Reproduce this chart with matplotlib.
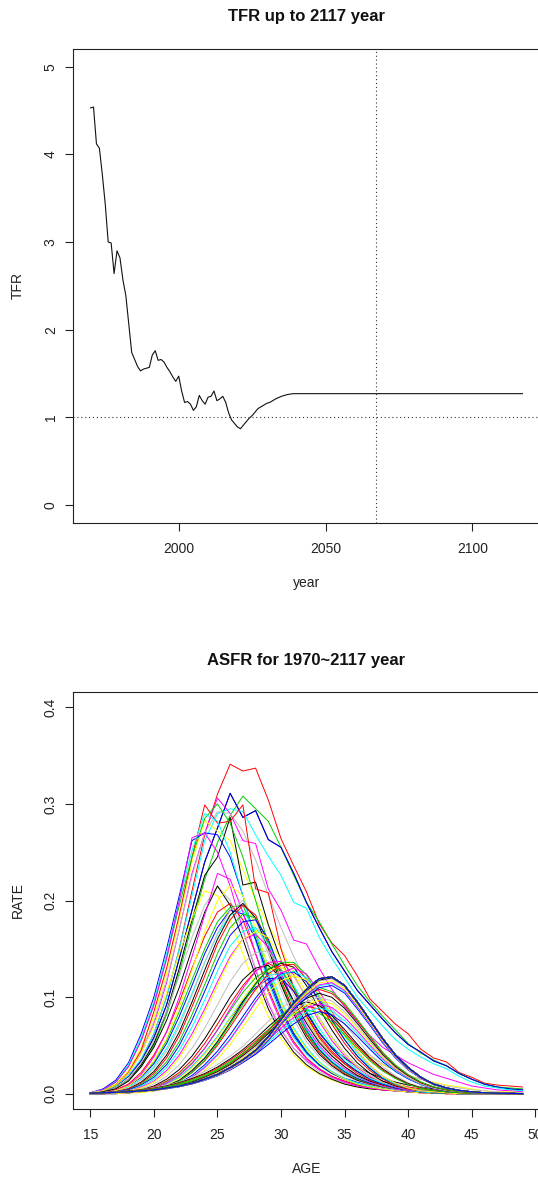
import matplotlib
matplotlib.use('Agg')
import matplotlib.pyplot as plt
import numpy as np

plt.rcParams['font.family'] = ['Liberation Sans', 'DejaVu Sans']

# ---------------- data ----------------
years = list(range(1970, 2118))

tfr_1970_2039 = [4.53, 4.54, 4.12, 4.07, 3.77, 3.43, 3.00, 2.99, 2.64, 2.90,
                 2.82, 2.57, 2.39, 2.06, 1.74, 1.66, 1.58, 1.53, 1.55, 1.56,
                 1.57, 1.71, 1.76, 1.65, 1.66, 1.63, 1.57, 1.52, 1.46, 1.41,
                 1.47, 1.30, 1.17, 1.18, 1.15, 1.08, 1.12, 1.25, 1.19, 1.15,
                 1.23, 1.24, 1.30, 1.19, 1.21, 1.24, 1.17, 1.05, 0.97, 0.93,
                 0.89, 0.87, 0.91, 0.95, 0.99, 1.02, 1.06, 1.10, 1.12, 1.14,
                 1.16, 1.17, 1.19, 1.21, 1.225, 1.24, 1.25, 1.26, 1.265, 1.27]
tfr_plateau_2040_2117 = 1.27
tfr_ref_line = 1.0
year_ref_line = 2067

ages = list(range(15, 50))

# age-specific fertility rates, per 1000 women, ages 15..49
asfr_1970_2034 = [
    [1,3,8,18,34, 58,92,140,190,240, 275,311,286,293,263, 255,228,198,172,147, 127,107,92,77,63, 51,43,34,29,21, 15,10,7,5,4],
    [1,3,8,18,35, 62,100,150,210,268, 310,341,334,337,304, 264,236,209,176,156, 143,122,98,85,72, 62,46,37,33,22, 17,11,9,8,7],
    [1,2,6,14,28, 50,82,125,175,222, 260,288,308,295,282, 255,226,198,178,155, 133,112,95,80,66, 52,42,35,29,21, 15,10,7,6,5],
    [1,3,8,18,34, 58,92,140,190,240, 275,311,286,293,263, 255,228,198,172,147, 127,107,92,77,63, 51,43,34,29,21, 15,10,7,5,4],
    [1,3,8,19,36, 62,100,150,205,262, 290,295,292,268,246, 226,198,192,162,140, 120,100,85,70,56, 46,38,31,26,18, 12,8,6,4,3],
    [1,3,9,21,42, 72,115,170,228,270, 306,290,262,259,212, 190,159,155,130,108, 90,75,60,48,40, 32,26,20,16,12, 8,6,4,3,2],
    [1,4,10,24,48, 80,125,180,240,283, 272,262,232,200,175, 150,125,105,88,72, 58,47,38,30,24, 19,15,12,9,7, 5,3,2,2,1],
    [1,3,9,22,44, 75,118,170,225,270, 292,290,272,242,206, 172,142,116,96,78, 63,50,40,31,24, 19,15,11,8,6, 4,3,2,1,1],
    [1,2,6,15,30, 52,85,130,180,226, 245,286,216,219,175, 138,110,84,63,48, 37,28,21,16,12, 9,7,5,4,3, 2,1,1,1,0],
    [1,3,9,22,45, 85,130,185,245,299, 280,282,299,212,208, 150,110,80,58,42, 31,23,17,13,10, 7,5,4,3,2, 1,1,1,0,0],
    [1,4,12,28,55, 92,140,195,245,285, 300,280,245,200,155, 115,85,62,45,33, 24,18,13,10,7, 5,4,3,2,1, 1,1,0,0,0],
    [1,5,14,32,62, 100,150,205,262,270, 268,245,205,160,118, 85,60,42,30,22, 16,12,9,6,4, 3,2,2,1,1, 0,0,0,0,0],
    [1,4,12,30,58, 95,145,200,252,290, 282,250,205,158,115, 82,58,41,29,21, 15,11,8,6,4, 3,2,2,1,1, 0,0,0,0,0],
    [1,4,12,28,55, 92,140,200,265,270, 250,215,170,128,93, 66,47,34,25,18, 13,9,7,5,3, 2,2,1,1,0, 0,0,0,0,0],
    [1,3,9,21,42, 70,105,145,182,210, 205,180,145,110,80, 57,40,28,20,14, 10,7,5,4,3, 2,1,1,1,0, 0,0,0,0,0],
    [1,2,6,15,32, 55,85,122,162,195, 215,200,168,130,95, 67,47,33,23,16, 11,8,6,4,3, 2,1,1,1,0, 0,0,0,0,0],
    [0,2,5,13,28, 48,76,110,150,188, 215,195,160,122,88, 62,43,30,21,15, 10,7,5,4,3, 2,1,1,0,0, 0,0,0,0,0],
    [0,1,4,10,22, 40,64,95,130,163, 188,197,180,145,108, 77,54,37,26,18, 13,9,6,4,3, 2,1,1,0,0, 0,0,0,0,0],
    [0,1,3,8,18, 33,55,85,118,150, 178,193,195,165,125, 90,63,44,30,21, 15,10,7,5,3, 2,2,1,1,0, 0,0,0,0,0],
    [0,1,3,8,17, 31,52,80,112,145, 172,190,186,160,122, 88,62,43,30,21, 15,10,7,5,3, 2,2,1,1,0, 0,0,0,0,0],
    [0,1,3,7,15, 28,47,73,104,136, 165,185,190,168,132, 96,68,48,33,23, 16,11,8,5,4, 3,2,1,1,0, 0,0,0,0,0],
    [0,1,3,9,20, 38,64,100,142,185, 228,222,188,145,105, 74,52,36,25,17, 12,8,6,4,3, 2,1,1,0,0, 0,0,0,0,0],
    [0,1,3,8,18, 34,57,90,128,168, 200,215,205,172,130, 94,66,46,32,22, 15,10,7,5,3, 2,1,1,0,0, 0,0,0,0,0],
    [0,1,2,6,14, 26,44,70,102,136, 166,190,200,180,145, 108,77,54,38,27, 19,13,9,6,4, 3,2,1,1,0, 0,0,0,0,0],
    [0,1,2,5,12, 23,40,64,95,128, 160,185,197,182,150, 113,82,58,41,29, 20,14,10,7,5, 3,2,1,1,0, 0,0,0,0,0],
    [0,1,2,5,11, 21,37,60,90,122, 155,180,195,185,155, 118,86,61,43,30, 21,15,10,7,5, 3,2,1,1,0, 0,0,0,0,0],
    [0,1,2,4,10, 19,33,54,82,113, 145,172,186,182,158, 123,90,64,45,32, 22,15,11,7,5, 3,2,1,1,0, 0,0,0,0,0],
    [0,1,2,4,9, 17,30,50,76,106, 137,164,178,180,160, 126,93,66,46,33, 23,16,11,8,5, 3,2,1,1,0, 0,0,0,0,0],
    [0,0,1,3,8, 15,27,45,69,97, 127,153,168,172,155, 124,93,67,48,34, 24,17,12,8,5, 3,2,1,1,0, 0,0,0,0,0],
    [0,0,1,3,7, 13,24,40,62,88, 116,142,160,165,152, 125,95,69,50,36, 26,18,12,8,5, 3,2,1,1,0, 0,0,0,0,0],
    [0,0,1,3,6, 12,22,37,58,84, 112,140,160,168,162, 138,106,78,56,40, 28,19,13,9,6, 4,2,1,1,0, 0,0,0,0,0],
    [0,0,1,2,5, 10,18,30,47,68, 92,116,135,146,148, 130,102,76,55,40, 28,19,13,9,6, 4,2,1,1,0, 0,0,0,0,0],
    [0,0,1,2,4, 8,15,25,39,57, 78,100,118,130,133, 120,96,73,53,39, 28,19,13,9,6, 4,2,1,1,0, 0,0,0,0,0],
    [0,0,1,2,4, 7,13,22,35,52, 72,93,112,127,135, 128,106,81,60,44, 31,21,14,9,6, 4,2,1,1,0, 0,0,0,0,0],
    [0,0,1,2,3, 6,12,20,32,47, 66,86,105,120,129, 128,110,86,64,47, 33,23,15,10,6, 4,2,1,1,0, 0,0,0,0,0],
    [0,0,1,1,3, 5,10,17,28,42, 59,78,96,110,119, 120,106,84,63,47, 33,23,15,10,6, 4,2,1,1,0, 0,0,0,0,0],
    [0,0,1,1,3, 5,10,17,28,42, 59,79,98,114,123, 124,112,90,68,50, 36,25,16,11,7, 4,2,1,1,0, 0,0,0,0,0],
    [0,0,1,2,3, 6,11,19,31,47, 66,88,109,127,136, 137,123,99,75,55, 39,27,18,12,7, 4,3,2,1,0, 0,0,0,0,0],
    [0,0,1,1,3, 5,9,16,27,41, 58,78,98,116,128, 131,122,100,77,57, 41,28,19,12,8, 5,3,2,1,0, 0,0,0,0,0],
    [0,0,1,1,2, 4,8,14,24,37, 53,72,91,108,121, 127,121,101,79,59, 42,29,19,12,8, 5,3,2,1,0, 0,0,0,0,0],
    [0,0,1,1,2, 4,8,14,24,37, 54,74,95,114,129, 135,131,112,88,66, 47,32,21,13,8, 5,3,2,1,0, 0,0,0,0,0],
    [0,0,1,1,2, 4,7,13,22,34, 50,69,89,108,124, 133,134,119,95,72, 52,36,24,15,9, 5,3,2,1,0, 0,0,0,0,0],
    [0,0,1,1,2, 4,7,13,22,35, 52,72,93,113,129, 136,136,123,100,77, 56,39,26,16,10, 6,3,2,1,0, 0,0,0,0,0],
    [0,0,0,1,2, 3,6,11,19,30, 44,61,80,99,115, 124,126,116,97,76, 56,39,26,16,10, 6,3,2,1,0, 0,0,0,0,0],
    [0,0,0,1,2, 3,6,10,17,28, 41,57,76,95,112, 123,127,120,102,81, 60,42,28,17,10, 6,3,2,1,0, 0,0,0,0,0],
    [0,0,0,1,2, 3,5,10,17,27, 40,56,75,95,113, 125,130,124,106,85, 63,44,29,18,11, 6,3,2,1,0, 0,0,0,0,0],
    [0,0,0,1,1, 3,5,9,15,24, 36,51,69,88,105, 117,122,118,103,83, 63,44,29,18,11, 6,3,2,1,0, 0,0,0,0,0],
    [0.8,1.3,2.1,3.1,4.4, 6.2,8.8,12,17,23, 30,39,49,62,75, 88,98,103,99,88, 72,56,40,28,18.5, 11.3,6.7,3.9,2.3,1.2, 0.7,0.4,0.2,0.1,0.05],
    [0.8,1.2,1.9,2.9,4.1, 5.7,8.1,11.4,15.7,20.9, 27.6,36.1,45.6,57,69.4, 80.8,90.3,95,91.2,80.8, 66.5,51.3,37,25.7,17.1, 10.5,6.2,3.6,2.1,1.1, 0.7,0.4,0.2,0.1,0.05],
    [0.7,1.2,1.8,2.7,3.9, 5.5,7.7,10.9,15,20, 26.4,34.6,43.7,54.6,66.4, 77.4,86.5,91,87.4,77.4, 63.7,49.1,35.5,24.6,16.4, 10,5.9,3.5,2,1.1, 0.6,0.4,0.2,0.1,0.05],
    [0.7,1.1,1.7,2.6,3.7, 5.2,7.4,10.4,14.4,19.1, 25.2,33.1,41.8,52.2,63.5, 74,82.7,87,83.5,74, 60.9,47,33.9,23.5,15.7, 9.6,5.7,3.3,1.9,1, 0.6,0.3,0.2,0.1,0.04],
    [0.3,0.7,1.1,1.7,2.6, 3.7,5.1,7.2,10.2,14, 18.7,24.7,32.3,40.8,51, 62,72.3,80.8,85,81.6, 72.3,59.5,45.9,33.2,23, 15.3,9.4,5.5,3.2,1.9, 1,0.6,0.3,0.2,0.1],
    [0.4,0.7,1.2,1.8,2.7, 3.8,5.3,7.6,10.7,14.7, 19.6,25.8,33.8,42.7,53.4, 65,75.7,84.6,89,85.4, 75.7,62.3,48.1,34.7,24, 16,9.8,5.8,3.4,2, 1.1,0.6,0.4,0.2,0.1],
    [0.4,0.7,1.2,1.9,2.8, 4,5.6,7.9,11.2,15.3, 20.5,27,35.3,44.6,55.8, 67.9,79,88.4,93,89.3, 79,65.1,50.2,36.3,25.1, 16.7,10.2,6,3.5,2, 1.1,0.7,0.4,0.2,0.1],
    [0.4,0.8,1.3,1.9,2.9, 4.2,5.8,8.2,11.6,16, 21.3,28.1,36.9,46.6,58.2, 70.8,82.5,92.2,97,93.1, 82.5,67.9,52.4,37.8,26.2, 17.5,10.7,6.3,3.7,2.1, 1.2,0.7,0.4,0.2,0.1],
    [0.4,0.8,1.3,2,3, 4.3,6,8.5,12,16.5, 22,29,38,48,60, 73,85,95,100,96, 85,70,54,39,27, 18,11,6.5,3.8,2.2, 1.2,0.7,0.4,0.2,0.1],
    [0.4,0.8,1.4,2.1,3.1, 4.5,6.2,8.8,12.5,17.2, 22.9,30.2,39.5,49.9,62.4, 75.9,88.4,98.8,104,99.8, 88.4,72.8,56.2,40.6,28.1, 18.7,11.4,6.8,4,2.3, 1.2,0.7,0.4,0.2,0.1],
    [0.4,0.9,1.4,2.2,3.2, 4.6,6.5,9.2,13,17.8, 23.8,31.3,41,51.8,64.8, 78.8,91.8,102.6,108,103.7, 91.8,75.6,58.3,42.1,29.2, 19.4,11.9,7,4.1,2.4, 1.3,0.8,0.4,0.2,0.1],
    [0.4,0.9,1.4,2.2,3.3, 4.7,6.6,9.4,13.2,18.2, 24.2,31.9,41.8,52.8,66, 80.3,93.5,104.5,110,105.6, 93.5,77,59.4,42.9,29.7, 19.8,12.1,7.2,4.2,2.4, 1.3,0.8,0.4,0.2,0.1],
    [0.4,0.9,1.3,1.9,2.8, 3.7,5.6,7.4,10.2,13.9, 18.5,24.6,32.5,41.4,54.9, 71.7,87.4,99.7,109.8,112, 104.2,87.9,70.6,52.6,37, 24.6,15.7,9.3,5.6,3.2, 1.9,0.9,0.6,0.3,0.2],
    [0.5,0.9,1.4,1.9,2.9, 3.8,5.7,7.5,10.4,14.1, 18.8,25.1,33.1,42.2,55.9, 73,88.9,101.5,111.7,114, 106,89.5,71.8,53.6,37.6, 25.1,16,9.5,5.7,3.3, 1.9,0.9,0.6,0.3,0.2],
    [0.5,0.9,1.4,2,2.9, 3.8,5.8,7.6,10.5,14.3, 19,25.3,33.4,42.6,56.4, 73.6,89.7,102.4,112.7,115, 107,90.3,72.5,54,38, 25.3,16.1,9.5,5.8,3.3, 2,0.9,0.6,0.3,0.2],
    [0.5,0.9,1.4,2,2.9, 3.9,5.9,7.7,10.6,14.5, 19.3,25.7,33.9,43.3,57.3, 74.9,91.3,104.1,114.7,117, 108.8,91.8,73.7,55,38.6, 25.7,16.4,9.7,5.9,3.4, 2,0.9,0.6,0.3,0.2],
    [0.5,1,1.4,2,3, 3.9,6,7.9,10.8,14.8, 19.6,26.2,34.5,44,58.3, 76.2,92.8,105.9,116.6,119, 110.7,93.4,75,55.9,39.3, 26.2,16.7,9.9,6,3.5, 2,1,0.6,0.3,0.2],
    [0.5,1,1.4,2,3, 4,6,7.9,10.9,14.9, 19.8,26.4,34.8,44.4,58.8, 76.8,93.6,106.8,117.6,120, 111.6,94.2,75.6,56.4,39.6, 26.4,16.8,10,6,3.5, 2,1,0.6,0.3,0.2],
]
asfr_2035_2117 = [0.5,1,1.5,2,3, 4,6,8,11,15, 20,27,35,45,59, 77,94,108,119,121,
                  112,95,76,57,40, 27,17,10,6,3.5, 2,1,0.6,0.3,0.2]

r_palette = ['#000000', '#FF0000', '#00CD00', '#0000FF',
             '#00FFFF', '#FF00FF', '#FFFF00', '#BEBEBE']

# ---------------- assemble ----------------
n_plateau = len(years) - len(tfr_1970_2039)
tfr = tfr_1970_2039 + [tfr_plateau_2040_2117] * n_plateau
n_long = len(years) - len(asfr_1970_2034)
asfr = np.array(asfr_1970_2034 + [asfr_2035_2117] * n_long, dtype=float) / 1000.0

# ---------------- figure ----------------
W, H = 538, 1178
fig = plt.figure(figsize=(W / 100, H / 100), dpi=100)


def box(l, t, r, b):
    return [l / W, 1 - b / H, (r - l) / W, (b - t) / H]


LW = 0.8
FS = 10


def style(ax):
    for s in ax.spines.values():
        s.set_linewidth(LW)
        s.set_color('#222222')
    ax.tick_params(axis='both', direction='out', length=5.5, width=LW,
                   labelsize=FS, color='#222222', labelcolor='#222222')
    ax.tick_params(axis='x', pad=8.3)
    ax.tick_params(axis='y', pad=5.6, labelrotation=90)
    for lbl in ax.get_yticklabels():
        lbl.set_verticalalignment('center')


# top panel: TFR
ax1 = fig.add_axes(box(73.3, 49.2, 539.7, 522.5))
ax1.plot(years, tfr, color='#111111', lw=LW)
ax1.axhline(tfr_ref_line, color='#333333', lw=LW, ls=(0, (1, 2.5)))
ax1.axvline(year_ref_line, color='#333333', lw=LW, ls=(0, (1, 2.5)))
ax1.set_xlim(1964.12, 2122.88)
ax1.set_ylim(-0.2, 5.2)
ax1.set_xticks([2000, 2050, 2100])
ax1.set_yticks([0, 1, 2, 3, 4, 5])
ax1.set_yticklabels(['0', '1', '2', '3', '4', '5'])
style(ax1)

# bottom panel: ASFR
ax2 = fig.add_axes(box(73.0, 691.8, 539.9, 1109.2))
for i in range(asfr.shape[0]):
    ax2.plot(ages, asfr[i], color=r_palette[i % len(r_palette)], lw=0.7)
ax2.set_xlim(13.64, 50.36)
ax2.set_ylim(-0.016, 0.416)
ax2.set_xticks([15, 20, 25, 30, 35, 40, 45, 50])
ax2.set_yticks([0.0, 0.1, 0.2, 0.3, 0.4])
ax2.set_yticklabels(['0.0', '0.1', '0.2', '0.3', '0.4'])
style(ax2)


def ftext(x, y, s, **kw):
    fig.text(x / W, 1 - y / H, s, **kw)


cx = (73.3 + 539.7) / 2
ftext(cx, 21.5, 'TFR up to 2117 year', ha='center', va='baseline',
      fontsize=12, fontweight='bold', color='#111111')
ftext(cx, 664.7, 'ASFR for 1970~2117 year', ha='center', va='baseline',
      fontsize=12, fontweight='bold', color='#111111')
ftext(cx, 586.5, 'year', ha='center', va='baseline', fontsize=FS, color='#222222')
ftext(cx, 1173.3, 'AGE', ha='center', va='baseline', fontsize=FS, color='#222222')
ftext(21.7, (49.2 + 522.5) / 2, 'TFR', rotation=90, rotation_mode='anchor',
      ha='center', va='baseline', fontsize=FS, color='#222222')
ftext(21.7, (691.8 + 1109.2) / 2, 'RATE', rotation=90, rotation_mode='anchor',
      ha='center', va='baseline', fontsize=FS, color='#222222')

fig.savefig('out.png', dpi=100)
